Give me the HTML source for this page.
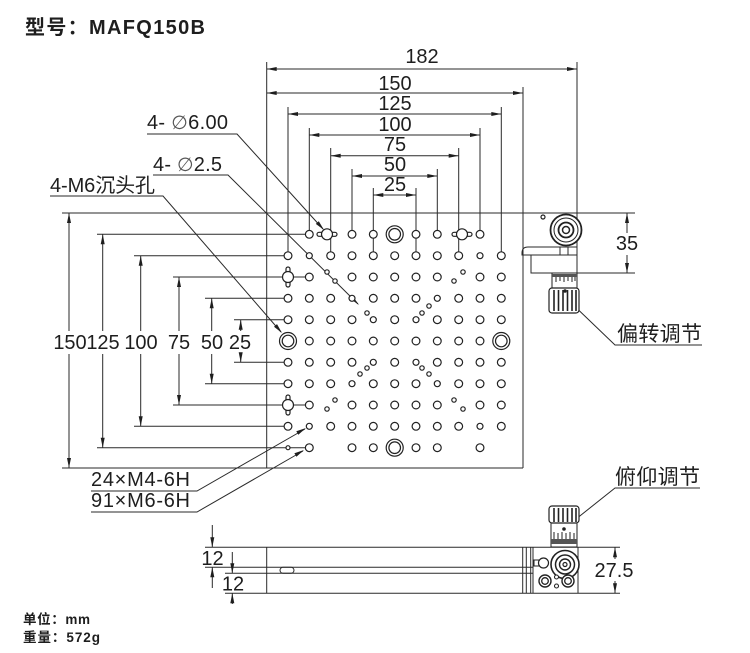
<!DOCTYPE html>
<html><head><meta charset="utf-8"><style>
html,body{margin:0;padding:0;background:#fff;}
svg{display:block;}
text{font-family:"Liberation Sans","Noto Sans CJK SC",sans-serif;fill:#1e1e1e;}
.cjk{font-family:"Liberation Sans","Noto Sans CJK SC",sans-serif;}
</style></head><body>
<svg width="750" height="653" viewBox="0 0 750 653" xmlns="http://www.w3.org/2000/svg">
<rect width="750" height="653" fill="#fff"/>

<!-- Title -->
<text x="25" y="34" font-size="20" font-weight="bold" textLength="180">型号：MAFQ150B</text>

<g stroke="#2a2a2a" stroke-width="1" fill="none">
  <!-- top extension lines -->
  <line x1="266.7" y1="62" x2="266.7" y2="468"/>
  <line x1="577" y1="62" x2="577" y2="273"/>
  <line x1="523" y1="87" x2="523" y2="468"/>
  <line x1="288" y1="107" x2="288" y2="251.5"/>
  <line x1="501.3" y1="107" x2="501.3" y2="251.5"/>
  <line x1="309.3" y1="128" x2="309.3" y2="230"/>
  <line x1="480" y1="128" x2="480" y2="230"/>
  <line x1="330.7" y1="148" x2="330.7" y2="251.5"/>
  <line x1="458.7" y1="148" x2="458.7" y2="251.5"/>
  <line x1="352" y1="169" x2="352" y2="230"/>
  <line x1="437.3" y1="169" x2="437.3" y2="230"/>
  <line x1="373.3" y1="188" x2="373.3" y2="251.5"/>
  <line x1="416" y1="188" x2="416" y2="251.5"/>
  <!-- top dim lines -->
  <line x1="266.7" y1="69" x2="577" y2="69"/>
  <line x1="266.7" y1="93" x2="523" y2="93"/>
  <line x1="288" y1="114" x2="501.3" y2="114"/>
  <line x1="309.3" y1="135" x2="480" y2="135"/>
  <line x1="330.7" y1="155.7" x2="458.7" y2="155.7"/>
  <line x1="352" y1="176" x2="437.3" y2="176"/>
  <line x1="373.3" y1="195" x2="416" y2="195"/>

  <!-- left extension lines -->
  <line x1="62" y1="213" x2="635" y2="213"/>
  <line x1="97" y1="234.3" x2="305.4" y2="234.3"/>
  <line x1="134" y1="255.7" x2="284.1" y2="255.7"/>
  <line x1="173" y1="277" x2="305.4" y2="277"/>
  <line x1="205" y1="298.3" x2="284.1" y2="298.3"/>
  <line x1="234" y1="319.7" x2="284.1" y2="319.7"/>
  <line x1="234" y1="362.3" x2="284.1" y2="362.3"/>
  <line x1="205" y1="383.7" x2="284.1" y2="383.7"/>
  <line x1="173" y1="405" x2="305.4" y2="405"/>
  <line x1="134" y1="426.3" x2="284.1" y2="426.3"/>
  <line x1="97" y1="447.7" x2="305.4" y2="447.7"/>
  <line x1="62" y1="468" x2="523" y2="468"/>

  <!-- left vertical dims -->
  <line x1="69" y1="213" x2="69" y2="331"/><line x1="69" y1="354" x2="69" y2="468"/>
  <line x1="102.7" y1="234.3" x2="102.7" y2="331"/><line x1="102.7" y1="354" x2="102.7" y2="447.7"/>
  <line x1="140.7" y1="255.7" x2="140.7" y2="331"/><line x1="140.7" y1="354" x2="140.7" y2="426.3"/>
  <line x1="179" y1="277" x2="179" y2="331"/><line x1="179" y1="354" x2="179" y2="405"/>
  <line x1="211.7" y1="298.3" x2="211.7" y2="331"/><line x1="211.7" y1="354" x2="211.7" y2="383.7"/>
  <line x1="240.7" y1="319.7" x2="240.7" y2="331"/><line x1="240.7" y1="354" x2="240.7" y2="362.3"/>

  <!-- knob housing top view -->
  <path d="M577,247 H528 Q522,247 522,253 V255 H577"/>
  <path d="M531,255 V273 H635"/>
  <line x1="560" y1="247" x2="560" y2="255"/>
  <line x1="568" y1="247" x2="568" y2="255"/>
  <!-- 35 dim -->
  <line x1="627" y1="213" x2="627" y2="233"/>
  <line x1="627" y1="255" x2="627" y2="273"/>

  <!-- leaders -->
  <polyline points="147,134 237,134 323,229"/>
  <polyline points="153,175 228,175 358,304"/>
  <polyline points="50,196 163,196 281,332"/>
  <polyline points="91,491 197,491 305,429"/>
  <polyline points="91,512 197,512 303,451"/>
  <polyline points="565,297 615,345 702,345"/>
  <polyline points="700,488 615,488 566,527"/>

  <!-- side view -->
  <line x1="205" y1="547.3" x2="620" y2="547.3"/>
  <line x1="205" y1="567.3" x2="533" y2="567.3"/>
  <line x1="225" y1="573.3" x2="533" y2="573.3"/>
  <line x1="225" y1="593.3" x2="620" y2="593.3"/>
  <line x1="266.7" y1="547.3" x2="266.7" y2="593.3"/>
  <line x1="522.7" y1="547.3" x2="522.7" y2="593.3"/>
  <line x1="526.3" y1="547.3" x2="526.3" y2="593.3"/>
  <line x1="530.7" y1="547.3" x2="530.7" y2="593.3"/>
  <line x1="533" y1="547.3" x2="533" y2="593.3"/>
  <line x1="578" y1="547.3" x2="578" y2="593.3"/>
  <rect x="280" y="567.3" width="14" height="6" rx="3"/>
  <!-- 12 dims -->
  <line x1="212.3" y1="525" x2="212.3" y2="547.3"/>
  <line x1="212.3" y1="567.3" x2="212.3" y2="588"/>
  <line x1="232.3" y1="552" x2="232.3" y2="573.3"/>
  <line x1="232.3" y1="593.3" x2="232.3" y2="604"/>
  <!-- 27.5 -->
  <line x1="615" y1="547.3" x2="615" y2="559"/>
  <line x1="615" y1="581" x2="615" y2="593.3"/>
</g>

<!-- arrowheads -->
<g fill="#1e1e1e" stroke="none">
  <polygon points="266.7,69 276.7,67 276.7,71"/><polygon points="577,69 567,67 567,71"/>
  <polygon points="266.7,93 276.7,91 276.7,95"/><polygon points="523,93 513,91 513,95"/>
  <polygon points="288,114 298,112 298,116"/><polygon points="501.3,114 491.3,112 491.3,116"/>
  <polygon points="309.3,135 319.3,133 319.3,137"/><polygon points="480,135 470,133 470,137"/>
  <polygon points="330.7,155.7 340.7,153.7 340.7,157.7"/><polygon points="458.7,155.7 448.7,153.7 448.7,157.7"/>
  <polygon points="352,176 362,174 362,178"/><polygon points="437.3,176 427.3,174 427.3,178"/>
  <polygon points="373.3,195 383.3,193 383.3,197"/><polygon points="416,195 406,193 406,197"/>

  <polygon points="69,213 67,223 71,223"/><polygon points="69,468 67,458 71,458"/>
  <polygon points="102.7,234.3 100.7,244.3 104.7,244.3"/><polygon points="102.7,447.7 100.7,437.7 104.7,437.7"/>
  <polygon points="140.7,255.7 138.7,265.7 142.7,265.7"/><polygon points="140.7,426.3 138.7,416.3 142.7,416.3"/>
  <polygon points="179,277 177,287 181,287"/><polygon points="179,405 177,395 181,395"/>
  <polygon points="211.7,298.3 209.7,308.3 213.7,308.3"/><polygon points="211.7,383.7 209.7,373.7 213.7,373.7"/>
  <polygon points="240.7,319.7 238.7,329.7 242.7,329.7"/><polygon points="240.7,362.3 238.7,352.3 242.7,352.3"/>

  <polygon points="627,213 625,223 629,223"/><polygon points="627,273 625,263 629,263"/>
  <polygon points="212.3,547.3 210.3,537.3 214.3,537.3"/><polygon points="212.3,567.3 210.3,577.3 214.3,577.3"/>
  <polygon points="232.3,573.3 230.3,563.3 234.3,563.3"/><polygon points="232.3,593.3 230.3,603.3 234.3,603.3"/>
  <polygon points="615,547.3 613,557.3 617,557.3"/><polygon points="615,593.3 613,583.3 617,583.3"/>

  <!-- leader arrows -->
  <polygon points="324,230 315.8,223.9 318.8,221.2"/>
  <polygon points="359,305 349.5,298.3 352.3,295.5"/>
  <polygon points="282,333 274,326.7 277,324.1"/>
  <polygon points="306,428 298.3,434.7 296.3,431.3"/>
  <polygon points="304,450 296.4,456.7 294.4,453.3"/>
</g>

<!-- holes -->
<g fill="#fff" stroke="#222" stroke-width="1.2">
  <!-- slots (ears) -->
  <rect x="317" y="232.3" width="20" height="4" rx="2"/>
  <rect x="452" y="232.3" width="20" height="4" rx="2"/>
  <rect x="286" y="267" width="4" height="20" rx="2"/>
  <rect x="286" y="395" width="4" height="20" rx="2"/>
  <circle cx="327" cy="234.3" r="5.5"/><circle cx="462" cy="234.3" r="5.5"/>
  <circle cx="288" cy="277" r="5.5"/><circle cx="288" cy="405" r="5.5"/>

  <!-- counterbores -->
  <circle cx="394.7" cy="234.3" r="8.5"/><circle cx="394.7" cy="234.3" r="5.8"/>
  <circle cx="394.7" cy="447.7" r="8.5"/><circle cx="394.7" cy="447.7" r="5.8"/>
  <circle cx="288" cy="341" r="8.5"/><circle cx="288" cy="341" r="5.8"/>
  <circle cx="501.3" cy="341" r="8.5"/><circle cx="501.3" cy="341" r="5.8"/>
</g>
<g fill="#fff" stroke="#222" stroke-width="1.2">
  <!-- R0 -->
  <circle cx="309.3" cy="234.3" r="3.9"/><circle cx="352" cy="234.3" r="3.9"/><circle cx="373.3" cy="234.3" r="3.9"/><circle cx="416" cy="234.3" r="3.9"/><circle cx="437.3" cy="234.3" r="3.9"/><circle cx="480" cy="234.3" r="3.9"/>
  <!-- R1 -->
  <circle cx="288" cy="255.7" r="3.9"/><circle cx="330.7" cy="255.7" r="3.9"/><circle cx="352" cy="255.7" r="3.9"/><circle cx="373.3" cy="255.7" r="3.9"/><circle cx="394.7" cy="255.7" r="3.9"/><circle cx="416" cy="255.7" r="3.9"/><circle cx="437.3" cy="255.7" r="3.9"/><circle cx="458.7" cy="255.7" r="3.9"/><circle cx="501.3" cy="255.7" r="3.9"/>
  <!-- R2 -->
  <circle cx="309.3" cy="277" r="3.9"/><circle cx="352" cy="277" r="3.9"/><circle cx="373.3" cy="277" r="3.9"/><circle cx="394.7" cy="277" r="3.9"/><circle cx="416" cy="277" r="3.9"/><circle cx="437.3" cy="277" r="3.9"/><circle cx="480" cy="277" r="3.9"/><circle cx="501.3" cy="277" r="3.9"/>
  <!-- R3 -->
  <circle cx="288" cy="298.3" r="3.9"/><circle cx="309.3" cy="298.3" r="3.9"/><circle cx="330.7" cy="298.3" r="3.9"/><circle cx="373.3" cy="298.3" r="3.9"/><circle cx="394.7" cy="298.3" r="3.9"/><circle cx="416" cy="298.3" r="3.9"/><circle cx="458.7" cy="298.3" r="3.9"/><circle cx="480" cy="298.3" r="3.9"/><circle cx="501.3" cy="298.3" r="3.9"/>
  <!-- R4 -->
  <circle cx="288" cy="319.7" r="3.9"/><circle cx="309.3" cy="319.7" r="3.9"/><circle cx="330.7" cy="319.7" r="3.9"/><circle cx="352" cy="319.7" r="3.9"/><circle cx="394.7" cy="319.7" r="3.9"/><circle cx="437.3" cy="319.7" r="3.9"/><circle cx="458.7" cy="319.7" r="3.9"/><circle cx="480" cy="319.7" r="3.9"/><circle cx="501.3" cy="319.7" r="3.9"/>
  <!-- R5 -->
  <circle cx="309.3" cy="341" r="3.9"/><circle cx="330.7" cy="341" r="3.9"/><circle cx="352" cy="341" r="3.9"/><circle cx="373.3" cy="341" r="3.9"/><circle cx="394.7" cy="341" r="3.9"/><circle cx="416" cy="341" r="3.9"/><circle cx="437.3" cy="341" r="3.9"/><circle cx="458.7" cy="341" r="3.9"/><circle cx="480" cy="341" r="3.9"/>
  <!-- R6 -->
  <circle cx="288" cy="362.3" r="3.9"/><circle cx="309.3" cy="362.3" r="3.9"/><circle cx="330.7" cy="362.3" r="3.9"/><circle cx="352" cy="362.3" r="3.9"/><circle cx="394.7" cy="362.3" r="3.9"/><circle cx="437.3" cy="362.3" r="3.9"/><circle cx="458.7" cy="362.3" r="3.9"/><circle cx="480" cy="362.3" r="3.9"/><circle cx="501.3" cy="362.3" r="3.9"/>
  <!-- R7 -->
  <circle cx="288" cy="383.7" r="3.9"/><circle cx="309.3" cy="383.7" r="3.9"/><circle cx="330.7" cy="383.7" r="3.9"/><circle cx="373.3" cy="383.7" r="3.9"/><circle cx="394.7" cy="383.7" r="3.9"/><circle cx="416" cy="383.7" r="3.9"/><circle cx="458.7" cy="383.7" r="3.9"/><circle cx="480" cy="383.7" r="3.9"/><circle cx="501.3" cy="383.7" r="3.9"/>
  <!-- R8 -->
  <circle cx="309.3" cy="405" r="3.9"/><circle cx="352" cy="405" r="3.9"/><circle cx="373.3" cy="405" r="3.9"/><circle cx="394.7" cy="405" r="3.9"/><circle cx="416" cy="405" r="3.9"/><circle cx="437.3" cy="405" r="3.9"/><circle cx="480" cy="405" r="3.9"/><circle cx="501.3" cy="405" r="3.9"/>
  <!-- R9 -->
  <circle cx="288" cy="426.3" r="3.9"/><circle cx="330.7" cy="426.3" r="3.9"/><circle cx="352" cy="426.3" r="3.9"/><circle cx="373.3" cy="426.3" r="3.9"/><circle cx="394.7" cy="426.3" r="3.9"/><circle cx="416" cy="426.3" r="3.9"/><circle cx="437.3" cy="426.3" r="3.9"/><circle cx="458.7" cy="426.3" r="3.9"/><circle cx="501.3" cy="426.3" r="3.9"/>
  <!-- R10 -->
  <circle cx="309.3" cy="447.7" r="3.9"/><circle cx="352" cy="447.7" r="3.9"/><circle cx="373.3" cy="447.7" r="3.9"/><circle cx="416" cy="447.7" r="3.9"/><circle cx="437.3" cy="447.7" r="3.9"/><circle cx="480" cy="447.7" r="3.9"/>

  <!-- small M4 -->
  <circle cx="309.3" cy="255.7" r="3"/><circle cx="480" cy="255.7" r="3"/>
  <circle cx="352" cy="298.3" r="3"/><circle cx="437.3" cy="298.3" r="3"/>
  <circle cx="373.3" cy="319.7" r="3"/><circle cx="416" cy="319.7" r="3"/>
  <circle cx="373.3" cy="362.3" r="3"/><circle cx="416" cy="362.3" r="3"/>
  <circle cx="352" cy="383.7" r="3"/><circle cx="437.3" cy="383.7" r="3"/>
  <circle cx="309.3" cy="426.3" r="3"/><circle cx="480" cy="426.3" r="3"/>

  <!-- tiny -->
  <circle cx="327" cy="272" r="2.2"/><circle cx="335" cy="281" r="2.2"/>
  <circle cx="454" cy="281" r="2.2"/><circle cx="463" cy="272" r="2.2"/>
  <circle cx="367" cy="313" r="2.2"/>
  <circle cx="429" cy="306" r="2.2"/><circle cx="422" cy="313" r="2.2"/>
  <circle cx="367" cy="368" r="2.2"/><circle cx="422" cy="368" r="2.2"/>
  <circle cx="360" cy="374" r="2.2"/><circle cx="429" cy="374" r="2.2"/>
  <circle cx="327" cy="409" r="2.2"/><circle cx="335" cy="400" r="2.2"/>
  <circle cx="454" cy="400" r="2.2"/><circle cx="463" cy="409" r="2.2"/>
  <circle cx="288" cy="447.7" r="2"/>
  <circle cx="543" cy="217" r="2"/>
</g>

<!-- top-view knob -->
<g fill="#fff" stroke="#222">
  <circle cx="566" cy="230" r="15.5" stroke-width="1.8"/>
  <circle cx="566" cy="230" r="12" stroke-width="1"/>
  <circle cx="566" cy="230" r="7.5" stroke-width="1.8"/>
  <circle cx="566" cy="230" r="3.5" stroke-width="1.5"/>
</g>
<!-- top-view micrometer -->
<g stroke="#222" fill="#fff">
  <rect x="552" y="273" width="25" height="15" stroke-width="1"/>
  <rect x="552" y="274" width="25" height="3" fill="#555" stroke="none"/>
  <rect x="549" y="288" width="30" height="25" rx="3" stroke-width="1.2"/>
  <g stroke-width="1.6">
    <line x1="554" y1="290" x2="554" y2="311"/><line x1="558.5" y1="290" x2="558.5" y2="311"/>
    <line x1="563" y1="290" x2="563" y2="311"/><line x1="567.5" y1="290" x2="567.5" y2="311"/>
    <line x1="572" y1="290" x2="572" y2="311"/><line x1="576" y1="290" x2="576" y2="311"/>
  </g>
  <g stroke-width="1">
    <line x1="556" y1="277" x2="556" y2="282"/><line x1="560" y1="277" x2="560" y2="281"/>
    <line x1="564" y1="277" x2="564" y2="282"/><line x1="568" y1="277" x2="568" y2="281"/>
    <line x1="572" y1="277" x2="572" y2="282"/><line x1="575" y1="277" x2="575" y2="281"/>
  </g>
  <circle cx="565" cy="291" r="1.3" fill="#222"/>
</g>

<!-- side-view micrometer & block -->
<g stroke="#222" fill="#fff">
  <rect x="551" y="523" width="26" height="24" stroke-width="1"/>
  <rect x="551" y="539" width="26" height="5" fill="#555" stroke="none"/>
  <g stroke-width="1">
    <line x1="554" y1="532" x2="554" y2="539"/><line x1="558" y1="533" x2="558" y2="539"/>
    <line x1="562" y1="532" x2="562" y2="539"/><line x1="566" y1="533" x2="566" y2="539"/>
    <line x1="570" y1="532" x2="570" y2="539"/><line x1="574" y1="533" x2="574" y2="539"/>
  </g>
  <circle cx="564" cy="529" r="1.3" fill="#222"/>
  <rect x="549" y="506" width="30" height="17" rx="3" stroke-width="1.2"/>
  <g stroke-width="1.6">
    <line x1="554" y1="508" x2="554" y2="522"/><line x1="558.5" y1="508" x2="558.5" y2="522"/>
    <line x1="563" y1="508" x2="563" y2="522"/><line x1="567.5" y1="508" x2="567.5" y2="522"/>
    <line x1="572" y1="508" x2="572" y2="522"/><line x1="576" y1="508" x2="576" y2="522"/>
  </g>
  <circle cx="565" cy="564.5" r="14" stroke-width="1.6"/>
  <circle cx="565" cy="564.5" r="9.5" stroke-width="1.5"/>
  <circle cx="565" cy="564.5" r="5.5" stroke-width="1.4"/>
  <circle cx="565" cy="564.5" r="2" stroke-width="1.2"/>
  <rect x="534" y="560" width="5" height="6" stroke-width="1"/>
  <circle cx="543.5" cy="563" r="5" stroke-width="1.2"/>
  <circle cx="545" cy="581" r="6" stroke-width="1.4"/><circle cx="545" cy="581" r="3.3" stroke-width="1.3"/>
  <circle cx="568" cy="581" r="6" stroke-width="1.4"/><circle cx="568" cy="581" r="3.3" stroke-width="1.3"/>
  <circle cx="556.5" cy="577" r="2" stroke-width="1.1"/><circle cx="556.5" cy="586" r="2" stroke-width="1.1"/>
</g>

<!-- dimension texts -->
<g font-size="20" text-anchor="middle">
  <text x="422" y="63">182</text>
  <text x="395" y="90">150</text>
  <text x="395" y="110">125</text>
  <text x="395" y="131">100</text>
  <text x="395" y="151">75</text>
  <text x="395" y="171">50</text>
  <text x="395" y="191">25</text>
  <text x="70" y="349">150</text>
  <text x="103" y="349">125</text>
  <text x="141" y="349">100</text>
  <text x="179" y="349">75</text>
  <text x="212" y="349">50</text>
  <text x="240" y="349">25</text>
  <text x="627" y="250">35</text>
  <text x="614" y="577">27.5</text>
  <text x="212.5" y="565">12</text>
  <text x="233" y="590.5">12</text>
</g>

<!-- labels -->
<text x="147" y="129" font-size="20" textLength="81">4- <tspan fill="#555" font-family="DejaVu Sans, sans-serif" font-size="19">∅</tspan>6.00</text>
<text x="153" y="171" font-size="20" textLength="69">4- <tspan fill="#555" font-family="DejaVu Sans, sans-serif" font-size="19">∅</tspan>2.5</text>
<text x="50" y="192" font-size="20" textLength="105" class="cjk">4-M6沉头孔</text>
<text x="91" y="486" font-size="20" textLength="99">24×M4-6H</text>
<text x="91" y="507" font-size="20" textLength="99">91×M6-6H</text>
<text x="617" y="341" font-size="21" textLength="85" class="cjk">偏转调节</text>
<text x="615" y="484" font-size="21" textLength="85" class="cjk">俯仰调节</text>

<text x="23" y="624" font-size="13.5" font-weight="bold" textLength="67">单位：mm</text>
<text x="23" y="642" font-size="13.5" font-weight="bold" textLength="77">重量：572g</text>
</svg>
</body></html>
